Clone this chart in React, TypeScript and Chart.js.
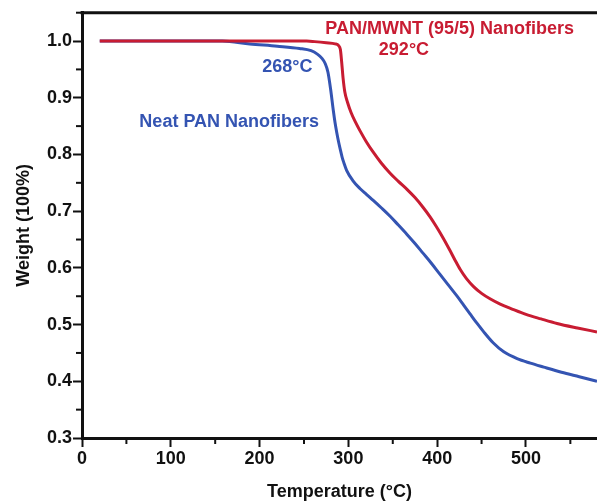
import React, { useEffect, useRef } from "react";
import { Chart, registerables } from "chart.js";

Chart.register(...registerables);

// PAN/MWNT (95/5) nanofibers
const redTemps = [20, 253, 262, 275, 285, 289, 291, 292.5, 294, 296, 299, 303, 308, 313, 320, 328, 337, 347, 356, 366, 375, 384, 392, 399, 407, 414, 420, 426, 433, 441, 450, 460, 471, 485, 500, 517, 535, 558, 580];
const redWeights = [1.0, 1.0, 0.999, 0.997, 0.995, 0.992, 0.985, 0.962, 0.935, 0.91, 0.892, 0.874, 0.857, 0.842, 0.823, 0.804, 0.785, 0.767, 0.753, 0.7385, 0.724, 0.707, 0.69, 0.673, 0.652, 0.632, 0.614, 0.597, 0.581, 0.567, 0.555, 0.545, 0.536, 0.527, 0.518, 0.51, 0.502, 0.494, 0.487];

// Neat PAN nanofibers
const blueTemps = [20, 158, 189, 220, 245, 258, 265, 270, 274, 277, 280, 283, 285, 287, 289, 291, 293, 295, 298, 305, 313, 320, 328, 337, 347, 356, 366, 375, 384, 393, 403, 412, 422, 430, 437, 445, 452, 463, 475, 490, 505, 520, 540, 560, 580];
const blueWeights = [1.0, 1.0, 0.995, 0.991, 0.987, 0.983, 0.977, 0.97, 0.96, 0.945, 0.915, 0.878, 0.856, 0.838, 0.822, 0.808, 0.795, 0.785, 0.772, 0.754, 0.74, 0.73, 0.719, 0.706, 0.691, 0.676, 0.659, 0.643, 0.626, 0.609, 0.589, 0.571, 0.551, 0.534, 0.519, 0.502, 0.488, 0.468, 0.452, 0.44, 0.432, 0.425, 0.416, 0.408, 0.4];

const xMinorTicks = [50, 150, 250, 350, 450, 550];
const yMinorTicks = [0.35, 0.45, 0.55, 0.65, 0.75, 0.85, 0.95, 1.05];

const RED = "rgb(200, 28, 50)";
const BLUE = "rgb(52, 84, 178)";

const labelTexts = ["PAN/MWNT (95/5) Nanofibers", "292°C", "268°C", "Neat PAN Nanofibers"];
const labelTemps = [414, 362.6, 231.2, 165.8];
const labelWeights = [1.0218, 0.985, 0.9537, 0.858];
const labelColors = [RED, RED, BLUE, BLUE];

const FONT = '"Liberation Sans", Arial, Helvetica, sans-serif';

const extrasPlugin = {
  id: "extras",
  afterDraw(chart: any) {
    const { ctx, chartArea, scales } = chart;
    const xs = scales.x;
    const ys = scales.y;
    ctx.save();
    ctx.strokeStyle = "#111";
    ctx.lineWidth = 2;
    xMinorTicks.forEach((v) => {
      const px = xs.getPixelForValue(v);
      ctx.beginPath();
      ctx.moveTo(px, chartArea.bottom);
      ctx.lineTo(px, chartArea.bottom + 6);
      ctx.stroke();
    });
    yMinorTicks.forEach((v) => {
      const py = ys.getPixelForValue(v);
      ctx.beginPath();
      ctx.moveTo(chartArea.left - 6, py);
      ctx.lineTo(chartArea.left, py);
      ctx.stroke();
    });
    // top frame line
    ctx.lineWidth = 3;
    ctx.beginPath();
    ctx.moveTo(chartArea.left - 1.5, chartArea.top);
    ctx.lineTo(chartArea.right, chartArea.top);
    ctx.stroke();

    ctx.font = `bold 18px ${FONT}`;
    ctx.textAlign = "center";
    ctx.textBaseline = "middle";
    labelTexts.forEach((t, i) => {
      ctx.fillStyle = labelColors[i];
      ctx.fillText(t, xs.getPixelForValue(labelTemps[i]), ys.getPixelForValue(labelWeights[i]));
    });
    ctx.restore();
  },
};

export default function App() {
  const ref = useRef<HTMLCanvasElement | null>(null);
  useEffect(() => {
    if (!ref.current) return;
    Chart.defaults.font.family = FONT;
    const chart = new Chart(ref.current, {
      type: "line",
      data: {
        datasets: [
          {
            label: "PAN/MWNT (95/5) Nanofibers",
            data: redTemps.map((t, i) => ({ x: t, y: redWeights[i] })),
            borderColor: RED,
            borderWidth: 3,
            pointRadius: 0,
            cubicInterpolationMode: "monotone",
            fill: false,
          },
          {
            label: "Neat PAN Nanofibers",
            data: blueTemps.map((t, i) => ({ x: t, y: blueWeights[i] })),
            borderColor: BLUE,
            borderWidth: 3,
            pointRadius: 0,
            cubicInterpolationMode: "monotone",
            fill: false,
          },
        ],
      },
      options: {
        responsive: false,
        animation: false,
        layout: { padding: { top: 12.7, left: 0, right: 0, bottom: 0 } },
        plugins: { legend: { display: false }, tooltip: { enabled: false } },
        scales: {
          x: {
            type: "linear",
            min: 0,
            max: 580,
            afterFit: (s: any) => {
              s.height = 66;
            },
            ticks: {
              stepSize: 100,
              includeBounds: false,
              padding: 1,
              color: "#111",
              font: { size: 18, weight: "bold" },
              maxRotation: 0,
            },
            grid: { drawOnChartArea: false, tickLength: 9, tickWidth: 2, tickColor: "#111" },
            border: { display: true, color: "#111", width: 3 },
            title: {
              display: true,
              text: "Temperature (°C)",
              color: "#111",
              font: { size: 18, weight: "bold" },
              padding: { top: 0, bottom: 1 },
            },
          },
          y: {
            type: "linear",
            min: 0.3,
            max: 1.05,
            afterFit: (s: any) => {
              s.width = 82;
            },
            ticks: {
              stepSize: 0.1,
              includeBounds: false,
              padding: 1,
              color: "#111",
              font: { size: 18, weight: "bold" },
              callback: (v: any) => Number(v).toFixed(1),
            },
            grid: { drawOnChartArea: false, tickLength: 9, tickWidth: 2, tickColor: "#111" },
            border: { display: true, color: "#111", width: 3 },
            title: {
              display: true,
              text: "Weight (100%)",
              color: "#111",
              font: { size: 18, weight: "bold" },
              padding: { top: 13, bottom: 0 },
            },
          },
        },
      },
      plugins: [extrasPlugin],
    });
    return () => chart.destroy();
  }, []);
  return (
    <div style={{ position: "fixed", left: 0, top: 0, width: 597, height: 504, background: "#fff" }}>
      <canvas ref={ref} width={597} height={504} style={{ display: "block" }} />
    </div>
  );
}
